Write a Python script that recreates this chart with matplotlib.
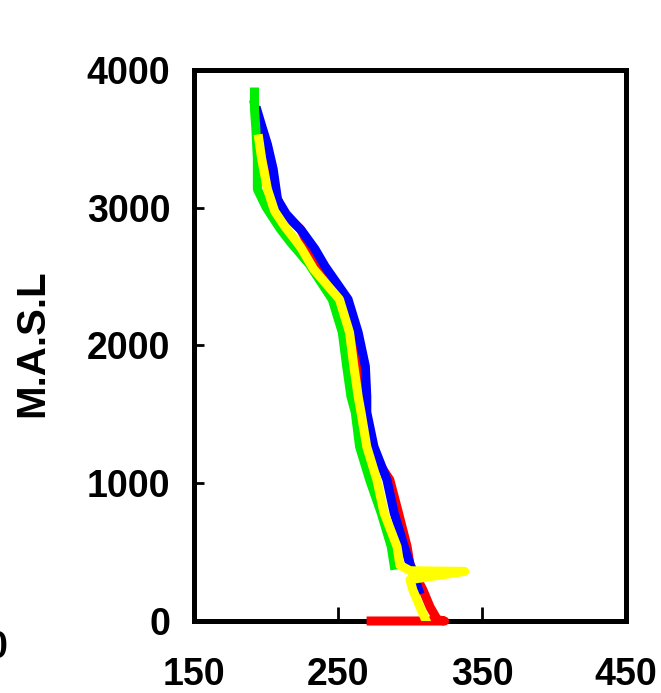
import matplotlib
matplotlib.use('Agg')
import matplotlib.pyplot as plt

plt.rcParams['font.family'] = ['Liberation Sans', 'DejaVu Sans']
plt.rcParams['font.weight'] = 'bold'

# temperature (K) vs altitude (m)
red_x = [273, 324, 319, 314, 309, 300, 298, 292, 286, 272, 265, 260, 251, 237, 224, 213, 204, 198, 195, 192]
red_y = [0, 0, 10, 100, 225, 410, 540, 785, 1025, 1245, 1850, 2095, 2335, 2575, 2845, 2950, 3150, 3350, 3550, 3750]

blue_x = [306, 296, 289, 284, 275, 270, 270, 269, 264, 257, 241, 234, 225, 214, 208, 205, 201, 197, 194]
blue_y = [225, 540, 785, 1025, 1265, 1515, 1630, 1850, 2095, 2335, 2575, 2700, 2830, 2955, 3060, 3280, 3460, 3595, 3700]

green_x = [289, 287, 280, 272, 265, 262, 259, 256, 253, 246, 230, 217, 210, 200, 194, 194, 193, 192, 192]
green_y = [405, 540, 785, 1025, 1265, 1515, 1630, 1850, 2095, 2335, 2590, 2750, 2845, 3005, 3135, 3355, 3570, 3715, 3840]

yellow_x = [311, 307, 302, 300, 338, 300, 293, 291, 282, 277, 270, 266, 264, 261, 258, 251, 233, 224, 213, 206, 201, 197, 195]
yellow_y = [5, 100, 225, 300, 360, 365, 405, 540, 785, 1025, 1265, 1515, 1630, 1850, 2095, 2335, 2555, 2715, 2865, 2975, 3135, 3355, 3500]

fig = plt.figure(figsize=(6.61, 6.93), dpi=100)
ax = fig.add_axes([0.2935, 0.1039, 0.6535, 0.7951])

lw = 6.5
ax.plot(red_x, red_y, color='#ff0000', lw=lw, clip_on=False, zorder=3)
ax.plot(blue_x, blue_y, color='#0000ff', lw=lw, zorder=4)
ax.plot(green_x, green_y, color='#00ee00', lw=lw, zorder=5)
ax.plot(yellow_x, yellow_y, color='#ffff00', lw=lw, zorder=6)

ax.set_xlim(150, 450)
ax.set_ylim(0, 4000)
ax.set_xticks([150, 250, 350, 450])
ax.set_yticks([0, 1000, 2000, 3000, 4000])
ax.tick_params(axis='both', direction='in', width=2, labelsize=27)
ax.tick_params(axis='x', length=10, pad=26)
ax.tick_params(axis='y', length=7, pad=17)
for s in ax.spines.values():
    s.set_linewidth(3.6)
ax.set_ylabel('M.A.S.L', fontsize=29, fontweight='bold')
ax.yaxis.set_label_coords(-0.33, 0.505)

# cut-off label at the left edge
fig.text(-3 / 661, 0.065, '0', ha='center', va='center', fontsize=27, fontweight='bold')

fig.savefig('out.png', dpi=100)
